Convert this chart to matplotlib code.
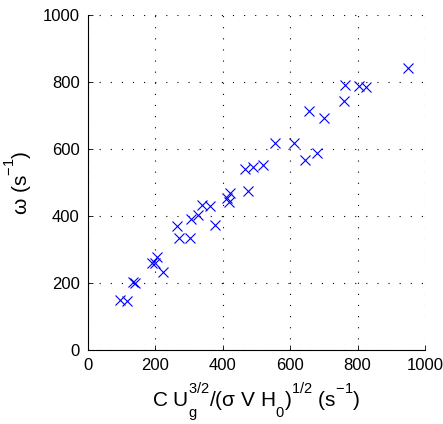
import matplotlib
matplotlib.use("Agg")
import matplotlib.pyplot as plt
import matplotlib._mathtext as _mt

plt.rcParams['font.family'] = ['Liberation Sans', 'DejaVu Sans']
plt.rcParams['mathtext.fontset'] = 'custom'
plt.rcParams['mathtext.rm'] = 'Liberation Sans'
plt.rcParams['mathtext.it'] = 'Liberation Sans'
plt.rcParams['mathtext.default'] = 'regular'
# MATLAB-like script placement (higher superscripts, lower subscripts)
_mt.FontConstantsBase.sup1 = 1.2
_mt.FontConstantsBase.sub1 = 1.0
_mt.FontConstantsBase.sub2 = 1.0

x_vals = [95, 115, 134, 140, 189, 199, 204, 223, 265, 270, 303, 307, 327, 339,
          362, 377, 411, 418, 421, 466, 476, 489, 518, 555, 611, 644, 656, 680,
          701, 761, 763, 805, 825, 950]
y_vals = [149, 146, 204, 201, 261, 261, 279, 232, 370, 335, 333, 390, 403, 433,
          430, 373, 453, 441, 468, 539, 475, 545, 552, 619, 619, 567, 713, 587,
          694, 744, 791, 788, 786, 843]
ticks = [0, 200, 400, 600, 800, 1000]

fig = plt.figure(figsize=(4.43, 4.24), dpi=100)
ax = fig.add_axes([88/443, 74/424, 337/443, 335/424])
ax.plot(x_vals, y_vals, 'x', color='#0000ff', markersize=7, markeredgewidth=0.8, clip_on=False, zorder=3)
ax.set_xlim(0, 1000)
ax.set_ylim(0, 1000)
ax.set_xticks(ticks)
ax.set_yticks(ticks)
ax.grid(True, color='black', linestyle=(0, (1, 9)), linewidth=0.8)
ax.spines['top'].set_visible(False)
ax.spines['right'].set_visible(False)
ax.spines['left'].set_linewidth(0.8)
ax.spines['bottom'].set_linewidth(0.8)
ax.tick_params(direction='in', length=3.5, width=0.6, labelsize=12, pad=6)
ax.set_xlabel('C U$_g^{3/2}$/(σ V H$_0$)$^{1/2}$ (s$^{-1}$)', fontsize=15, labelpad=5)
ax.set_ylabel('ω (s$^{-1}$)', fontsize=15, labelpad=6)
fig.savefig('out.png', dpi=100)
